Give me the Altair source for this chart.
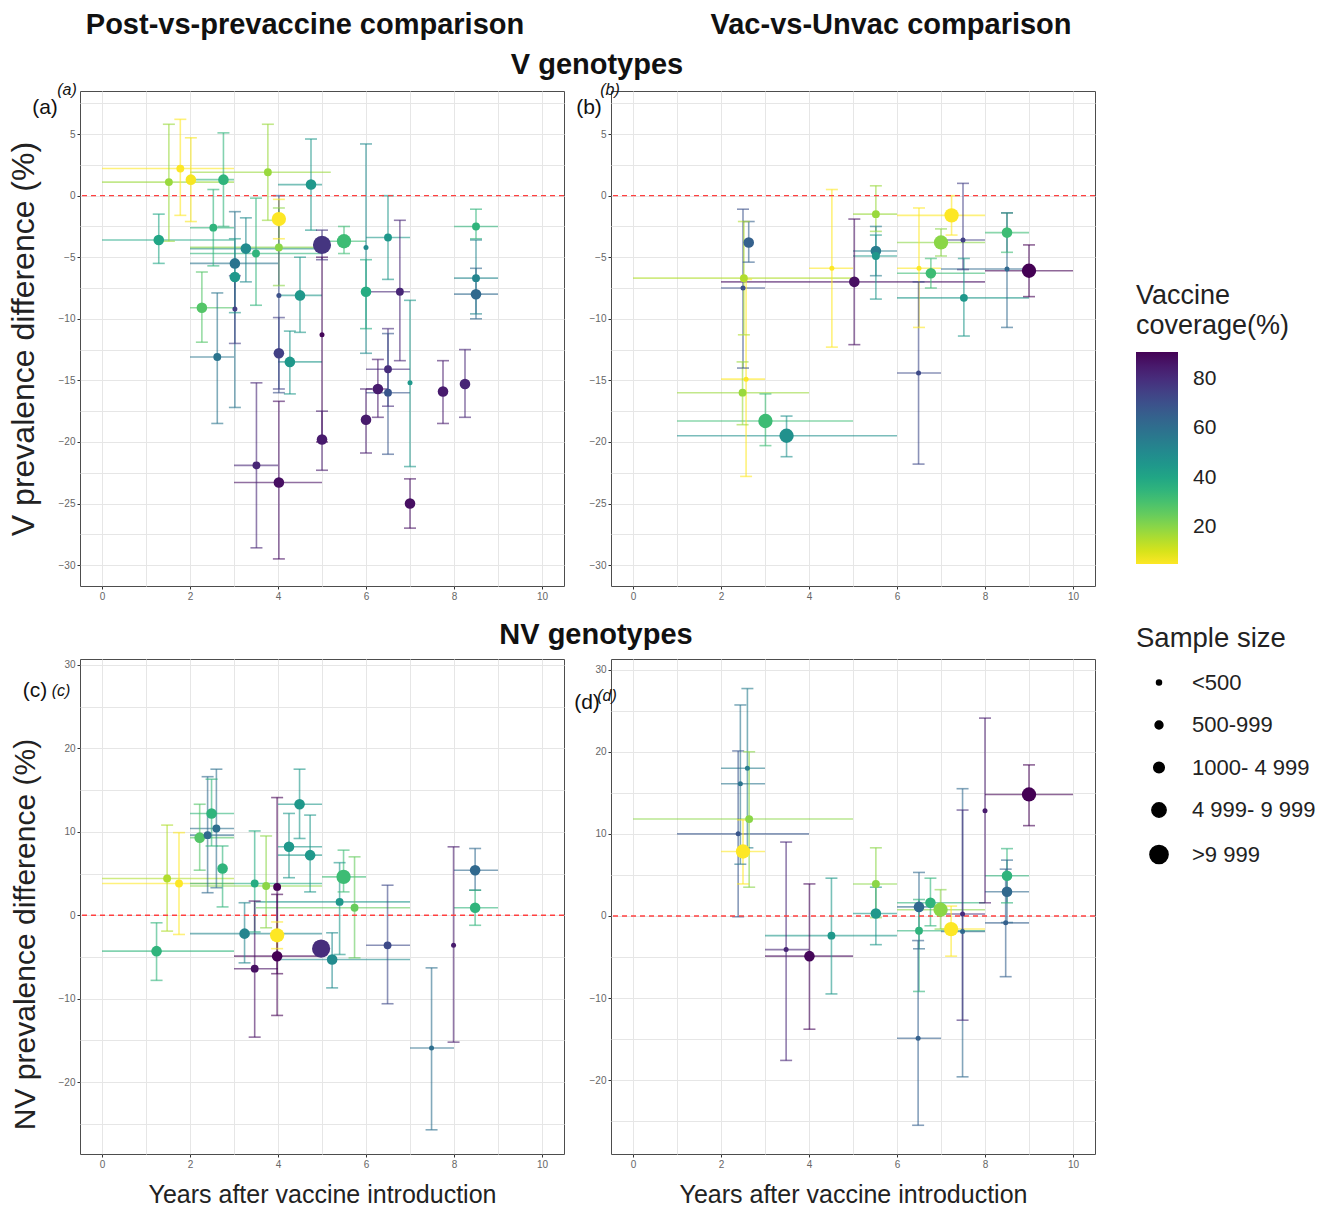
import altair as alt
import pandas as pd

SIZE_LABELS = ["<500", "500-999", "1000- 4 999", "4 999- 9 999", ">9 999"]
SIZE_CODES = [1, 2, 3, 4, 5]
SIZE_RANGE = [25, 62, 112, 205, 330]

# ---------------- panel (a): V genotypes, post-vs-prevaccine ----------------
a_x = [1.29, 1.52, 1.78, 2.02, 2.76, 3.77, 4.75, 2.53, 4.02, 3.27, 3.5, 4.02, 3.02, 3.02, 2.62, 5.0, 5.0, 5.0, 5.5, 6.5, 6.0, 6.0, 6.77, 7.0, 8.5, 8.5, 8.5, 6.0, 6.27, 6.5, 6.5, 7.0, 7.75, 8.25, 2.27, 4.02, 4.27, 3.51, 4.02, 4.02, 4.5, 3.02]
a_xlo = [0, 0, 0, 2.02, 2.0, 2.0, 4.0, 2.0, 4.02, 2.0, 2.0, 2.0, 2.0, 3.02, 2.0, 5.0, 5.0, 5.0, 5.0, 6.0, 6.0, 6.0, 6.0, 7.0, 8.0, 8.0, 8.0, 6.0, 6.0, 6.0, 6.0, 7.0, 7.75, 8.25, 2.0, 4.02, 4.0, 3.0, 3.0, 4.02, 4.0, 3.02]
a_xhi = [3, 3, 3, 2.02, 3.0, 5.2, 5.0, 3.0, 4.02, 5.0, 5.0, 5.0, 4.0, 3.02, 3.0, 5.0, 5.0, 5.0, 6.0, 7.0, 6.0, 6.0, 7.0, 7.0, 9.0, 9.0, 9.0, 6.0, 6.5, 7.0, 7.0, 7.0, 7.75, 8.25, 3.0, 4.02, 5.0, 4.0, 5.0, 4.02, 5.0, 3.02]
a_y = [-3.6, 1.1, 2.2, 1.3, 1.3, 1.9, 0.9, -2.6, -1.9, -4.3, -4.7, -4.2, -5.5, -6.6, -13.1, -4.0, -11.3, -19.8, -3.7, -3.4, -4.2, -7.8, -7.8, -15.2, -2.5, -6.7, -8.0, -18.2, -15.7, -14.1, -16.0, -25.0, -15.9, -15.3, -9.1, -12.8, -13.5, -21.9, -23.3, -8.1, -8.1, -9.2]
a_ylo = [-5.5, -3.7, -1.6, -2.1, -2.5, -2.0, -2.8, -5.7, -3.5, -7.0, -8.9, -7.3, -17.2, -9.5, -18.5, -5.2, -20.0, -22.3, -4.7, -6.8, -12.8, -10.8, -13.4, -22.0, -3.5, -9.6, -10.0, -20.9, -18.0, -17.1, -21.0, -27.0, -18.5, -18.0, -11.9, -15.7, -16.1, -28.6, -29.5, -16.0, -11.1, -12.0]
a_yhi = [-1.5, 5.8, 6.2, 4.7, 5.1, 5.8, 4.6, 0.5, -0.3, -1.8, -0.2, -1.0, -1.3, -3.5, -7.9, -2.8, -5.0, -17.5, -2.5, 0.0, 4.2, -5.2, -2.0, -8.5, -1.1, -3.6, -5.9, -15.7, -13.3, -10.8, -11.2, -23.0, -13.4, -12.5, -6.2, -9.9, -11.0, -15.2, -16.7, 0.0, -5.0, -6.5]
a_cov = [40, 18, 5, 6, 35, 18, 45, 35, 5, 50, 35, 20, 58, 45, 58, 78, 90, 85, 32, 45, 50, 38, 82, 45, 35, 52, 62, 85, 85, 80, 68, 88, 85, 82, 28, 75, 45, 82, 88, 70, 45, 75]
a_n = [3, 2, 2, 3, 3, 2, 3, 2, 4, 3, 2, 2, 3, 3, 2, 5, 1, 3, 4, 2, 1, 3, 2, 1, 2, 2, 3, 3, 3, 2, 2, 3, 3, 3, 3, 3, 3, 2, 3, 1, 3, 1]

# ---------------- panel (b): V genotypes, vac-vs-unvac ----------------
b_x = [2.63, 2.5, 2.52, 2.57, 2.49, 3.01, 3.49, 4.52, 5.03, 5.52, 5.52, 5.52, 7.24, 7.0, 6.77, 6.5, 6.49, 7.52, 7.5, 8.5, 8.5, 9.0]
b_xlo = [2.63, 2.0, 0.0, 2.0, 1.0, 1.0, 1.0, 4.0, 2.0, 5.0, 5.0, 5.0, 6.0, 6.0, 6.0, 6.0, 6.0, 6.0, 7.0, 8.0, 7.0, 8.0]
b_xhi = [2.63, 3.0, 5.0, 3.0, 4.0, 5.0, 6.0, 5.0, 8.0, 6.0, 6.0, 6.0, 8.0, 8.0, 8.0, 7.0, 7.0, 9.0, 8.0, 9.0, 9.0, 10.0]
b_y = [-3.8, -7.5, -6.7, -14.9, -16.0, -18.3, -19.5, -5.9, -7.0, -1.5, -4.5, -4.9, -1.6, -3.8, -6.3, -5.9, -14.4, -8.3, -3.6, -3.0, -5.95, -6.1]
b_ylo = [-5.4, -14.0, -11.3, -22.8, -18.6, -20.3, -21.2, -12.3, -12.1, -2.9, -6.5, -8.4, -3.2, -4.9, -7.5, -10.7, -21.8, -11.4, -6.0, -4.6, -10.7, -8.2]
b_yhi = [-2.1, -1.1, -2.1, -6.8, -13.5, -16.1, -17.9, 0.5, -1.9, 0.8, -2.5, -3.2, 0.0, -2.7, -5.1, -1.0, -7.0, -5.1, 1.0, -1.4, -1.4, -4.0]
b_cov = [65, 70, 15, 5, 18, 32, 48, 5, 88, 18, 55, 45, 5, 20, 32, 5, 72, 45, 75, 32, 62, 92]
b_n = [3, 1, 2, 1, 2, 4, 4, 1, 3, 2, 3, 2, 4, 4, 3, 1, 1, 2, 1, 3, 1, 4]

# ---------------- panel (c): NV genotypes, post-vs-prevaccine ----------------
c_x = [1.24, 1.48, 1.75, 2.22, 2.49, 2.4, 2.6, 2.74, 3.47, 3.73, 3.98, 4.49, 4.25, 4.73, 3.24, 3.98, 3.47, 3.98, 4.98, 5.23, 5.49, 5.4, 5.74, 6.49, 7.99, 8.48, 8.48, 7.49]
c_xlo = [0, 0, 0, 2, 2, 2, 2, 2.74, 2, 2, 3.98, 4, 4, 4, 2, 3.98, 3, 3, 4.98, 4, 5, 3.5, 3.5, 6, 7.99, 8, 8, 7]
c_xhi = [3, 3, 3, 3, 3, 3, 3, 2.74, 5, 5, 3.98, 5, 5, 5, 5, 3.98, 4, 5, 4.98, 7, 6, 7, 7, 7, 7.99, 9, 9, 8]
c_y = [-4.3, 4.4, 3.8, 9.3, 12.2, 9.6, 10.4, 5.6, 3.8, 3.5, 3.4, 13.3, 8.2, 7.2, -2.2, -2.4, -6.4, -4.9, -4.0, -5.3, 4.6, 1.6, 0.9, -3.6, -3.6, 5.4, 0.9, -15.9]
c_ylo = [-7.8, -1.9, -2.3, 5.4, 8.3, 2.7, 3.3, 1.0, -2.0, -1.5, -7.0, 9.2, 4.5, 2.8, -5.7, -4.0, -14.6, -12.0, -4.8, -8.7, 2.8, -4.7, -5.1, -10.6, -15.2, 3.0, -1.2, -25.7]
c_yhi = [-0.9, 10.8, 9.9, 13.3, 16.3, 16.6, 17.5, 8.3, 10.1, 9.5, 14.1, 17.5, 12.2, 12.0, 1.5, -0.8, 1.7, 2.5, -3.2, -2.1, 7.8, 6.3, 7.0, 3.6, 8.2, 8.0, 3.0, -6.3]
c_cov = [35, 15, 5, 28, 35, 62, 60, 35, 38, 20, 92, 45, 45, 45, 52, 5, 88, 92, 80, 50, 32, 45, 25, 72, 85, 62, 35, 60]
c_n = [3, 2, 2, 3, 3, 2, 2, 3, 2, 2, 2, 3, 3, 3, 3, 4, 2, 3, 5, 3, 4, 2, 2, 2, 1, 3, 3, 1]

# ---------------- panel (d): NV genotypes, vac-vs-unvac ----------------
d_x = [2.39, 2.44, 2.6, 2.64, 2.5, 3.48, 4.01, 4.51, 5.52, 5.52, 6.5, 6.5, 6.48, 6.76, 6.99, 7.23, 7.49, 7.49, 8.0, 9.0, 8.5, 8.5, 8.47]
d_xlo = [1, 2, 2, 0, 2, 3, 3, 3, 5, 5, 6, 6, 6, 6, 6, 7, 7, 7, 8.0, 8, 8, 8, 8]
d_xhi = [4, 3, 3, 5, 3, 4, 5, 6, 6, 6, 7, 8, 7, 8, 8, 8, 8, 8, 8.0, 10, 9, 9, 9]
d_y = [10.0, 16.1, 18.0, 11.8, 7.85, -4.1, -4.9, -2.4, 3.9, 0.3, 1.1, -1.8, -14.9, 1.6, 0.75, -1.6, -1.9, 0.24, 12.8, 14.8, 4.9, 2.95, -0.84]
d_ylo = [-0.1, 6.3, 8.3, 3.5, 3.9, -17.6, -13.8, -9.5, -0.2, -3.5, -4.0, -9.2, -25.5, -1.2, -1.6, -4.9, -19.6, -12.7, 1.6, 11.0, 1.6, -0.8, -7.4]
d_yhi = [20.1, 25.7, 27.7, 20.0, 11.7, 9.0, 3.9, 4.6, 8.3, 3.5, 5.3, 2.0, -3.0, 4.6, 3.2, 1.2, 15.5, 12.9, 24.1, 18.4, 8.2, 6.8, 5.7]
d_cov = [68, 58, 55, 20, 5, 82, 90, 45, 20, 45, 62, 35, 65, 35, 20, 5, 62, 80, 85, 92, 35, 62, 65]
d_n = [1, 1, 1, 2, 4, 1, 3, 2, 2, 3, 3, 2, 1, 3, 4, 4, 1, 1, 1, 4, 3, 3, 1]

X_TICKS = list(range(0, 11))
Y_TICKS_V = [-30, -27.5, -25, -22.5, -20, -17.5, -15, -12.5, -10, -7.5, -5, -2.5, 0, 2.5, 5, 7.5]
Y_TICKS_NV = [-25, -20, -15, -10, -5, 0, 5, 10, 15, 20, 25, 30]
COV_DOMAIN = [5, 91]
# bars use their own (legend-less) stroke/fill scales; a hair-different domain keeps
# Vega-Lite from merging them into the colour legend
BAR_COV_DOMAIN = [4.999, 91]

FONT = "Liberation Sans"


def make_df(x, xlo, xhi, y, ylo, yhi, cov, n):
    return pd.DataFrame({
        "x": x, "xlo": xlo, "xhi": xhi, "y": y, "ylo": ylo, "yhi": yhi,
        "cov": cov, "n": n,
    })


color_legend = alt.Legend(
    type="gradient", direction="vertical",
    title=["Vaccine", " coverage(%)"], orient="none", legendX=1056, legendY=192,
    gradientLength=212, gradientThickness=42, values=[20, 40, 60, 80],
    labelFontSize=21, titleFontSize=27, titleFontWeight="normal", titleFont=FONT,
    labelFont=FONT, labelColor="#222222", titleColor="#222222", titlePadding=12,
    titleLineHeight=30, labelOffset=15, gradientStrokeWidth=0,
    tickCount=4,
)
size_label_expr = "[" + ",".join("'" + s + "'" for s in SIZE_LABELS) + "][datum.value - 1]"
size_legend = alt.Legend(
    type="symbol",
    title="Sample size", orient="none", legendX=1056, legendY=534,
    values=SIZE_CODES, labelExpr=size_label_expr,
    labelFontSize=22, titleFontSize=27.5, titleFontWeight="normal", titleFont=FONT,
    labelFont=FONT, labelColor="#222222", titleColor="#222222",
    symbolFillColor="black", symbolStrokeColor="black", symbolOpacity=1,
    symbolType="circle", symbolOffset=12,
    rowPadding=20.5, titlePadding=19, labelOffset=22,
)

COLOR_SCALE = alt.Scale(scheme="viridis", reverse=True, domain=COV_DOMAIN, clamp=True)
BAR_SCALE = alt.Scale(scheme="viridis", reverse=True, domain=BAR_COV_DOMAIN, clamp=True)
SIZE_SCALE = alt.Scale(domain=SIZE_CODES, range=SIZE_RANGE)


def text_layer(txt, px, py, size, weight="normal", style="normal"):
    return alt.Chart(pd.DataFrame({"t": [txt]})).mark_text(
        fontSize=size, fontWeight=weight, fontStyle=style, font=FONT,
        color="#111111", baseline="middle", align="center",
    ).encode(x=alt.value(px), y=alt.value(py), text="t:N")


def panel(df, ydom, yticks, ymajor, ytitle, xtitle, texts, ytitle_size=32, ytitle_y=None):
    xs = alt.Scale(domain=[-0.5, 10.5], nice=False, zero=False)
    ys = alt.Scale(domain=ydom, nice=False, zero=False)
    xtest = "datum.value % 2 === 0"
    xaxis = alt.Axis(
        values=X_TICKS,
        labelExpr=xtest + " ? datum.label : ''",
        tickColor={"condition": {"test": xtest, "value": "#333333"}, "value": "transparent"},
        title=xtitle if xtitle else None, titleFontSize=25, titleFontWeight="normal",
        titleColor="#222222", titlePadding=13,
    )
    ytest = "datum.value % " + str(ymajor) + " === 0"
    yaxis_kw = dict(
        values=yticks,
        labelExpr=ytest + " ? datum.label : ''",
        tickColor={"condition": {"test": ytest, "value": "#333333"}, "value": "transparent"},
        title=ytitle if ytitle else None, titleFontSize=ytitle_size, titleFontWeight="normal",
        titleColor="#222222", titlePadding=18,
    )
    if ytitle_y is not None:
        yaxis_kw["titleY"] = ytitle_y
    yaxis = alt.Axis(**yaxis_kw)
    col = alt.Color("cov:Q", scale=COLOR_SCALE, legend=color_legend)
    strk = alt.Stroke("cov:Q", scale=BAR_SCALE, legend=None)
    fil = alt.Fill("cov:Q", scale=BAR_SCALE, legend=None)
    base = alt.Chart(df)
    hbar = base.transform_filter("datum.xhi > datum.xlo").mark_rule(
        strokeWidth=1.6, opacity=0.6
    ).encode(
        x=alt.X("xlo:Q", scale=xs, axis=xaxis), x2="xhi:Q",
        y=alt.Y("y:Q", scale=ys, axis=yaxis), stroke=strk,
    )
    vbar = base.mark_rule(strokeWidth=1.6, opacity=0.6).encode(
        x=alt.X("x:Q", scale=xs, axis=xaxis),
        y=alt.Y("ylo:Q", scale=ys, axis=yaxis), y2="yhi:Q", stroke=strk,
    )
    cap_lo = base.mark_tick(orient="horizontal", size=12, thickness=1.6, opacity=0.6).encode(
        x=alt.X("x:Q", scale=xs, axis=xaxis),
        y=alt.Y("ylo:Q", scale=ys, axis=yaxis), fill=fil,
    )
    cap_hi = base.mark_tick(orient="horizontal", size=12, thickness=1.6, opacity=0.6).encode(
        x=alt.X("x:Q", scale=xs, axis=xaxis),
        y=alt.Y("yhi:Q", scale=ys, axis=yaxis), fill=fil,
    )
    zero = alt.Chart(pd.DataFrame({"z": [0]})).mark_rule(
        color="#ff4040", strokeDash=[5, 4], strokeWidth=1.4
    ).encode(y=alt.Y("z:Q", scale=ys, axis=yaxis))
    pts = base.mark_circle(opacity=1).encode(
        x=alt.X("x:Q", scale=xs, axis=xaxis),
        y=alt.Y("y:Q", scale=ys, axis=yaxis), color=col,
        size=alt.Size("n:Q", scale=SIZE_SCALE, legend=size_legend),
    )
    layers = [hbar, vbar, cap_lo, cap_hi, zero, pts] + texts
    return alt.layer(*layers).properties(width=484, height=495)


pa = panel(make_df(a_x, a_xlo, a_xhi, a_y, a_ylo, a_yhi, a_cov, a_n),
           [-31.7, 8.5], Y_TICKS_V, 5, "V prevalence difference (%)", None,
           [text_layer("Post-vs-prevaccine comparison", 225, -66, 29, "bold"),
            text_layer("V genotypes", 517, -26, 29, "bold"),
            text_layer("(a)", -35, 17, 21),
            text_layer("(a)", -13, -1, 16, style="italic")])
pb = panel(make_df(b_x, b_xlo, b_xhi, b_y, b_ylo, b_yhi, b_cov, b_n),
           [-31.7, 8.5], Y_TICKS_V, 5, None, None,
           [text_layer("Vac-vs-Unvac comparison", 280, -66, 29, "bold"),
            text_layer("(b)", -22, 17, 21),
            text_layer("(b)", -1, -1, 16, style="italic")])
pc = panel(make_df(c_x, c_xlo, c_xhi, c_y, c_ylo, c_yhi, c_cov, c_n),
           [-28.6, 30.7], Y_TICKS_NV, 10, "NV prevalence difference (%)",
           "Years after vaccine introduction",
           [text_layer("NV genotypes", 516, -24, 29, "bold"),
            text_layer("(c)", -45, 32, 21),
            text_layer("(c)", -19, 32, 16, style="italic")],
           ytitle_size=30, ytitle_y=275)
pd_ = panel(make_df(d_x, d_xlo, d_xhi, d_y, d_ylo, d_yhi, d_cov, d_n),
            [-29.0, 31.3], Y_TICKS_NV, 10, None, "Years after vaccine introduction",
            [text_layer("(d)", -24, 44, 21),
             text_layer("(d)", -4, 37, 16, style="italic")])

chart = alt.concat(
    pa, pb, pc, pd_, columns=2, spacing={"row": 73, "column": 47}, bounds="flush"
).resolve_scale(
    color="shared", size="shared", stroke="shared", fill="shared"
).properties(
    padding={"left": 6, "top": 10, "right": 5, "bottom": 5}
).configure(font=FONT).configure_view(
    stroke="#4d4d4d", strokeWidth=1
).configure_axis(
    domain=False, grid=True, gridColor="#e6e6e6", gridWidth=1,
    labelFontSize=10, labelColor="#666666", labelFont=FONT, titleFont=FONT,
    tickSize=3, labelPadding=2,
)

chart.save("out.html", embed_options={"renderer": "svg", "actions": False})
